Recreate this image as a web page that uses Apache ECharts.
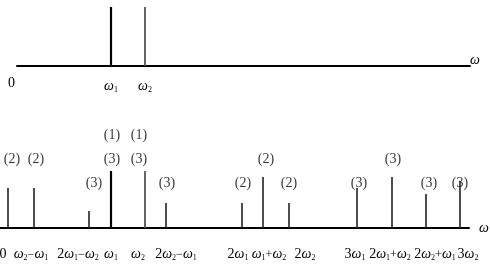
<!DOCTYPE html>
<html>
<head>
<meta charset="utf-8">
<script src="https://cdn.jsdelivr.net/npm/echarts@6/dist/echarts.min.js"></script>
</head>
<body style="margin:0;background:#fff">
<div id="main" style="width:490px;height:272px;"></div>
<script>
// input spectrum (top): positions and heights of the two tones
var topPos = [111, 145];
var topHeights = [59, 59];
var topTickPos = [111, 145];
var topTickText = ['{i|ω}{s|1}', '{i|ω}{s|2}'];

// output spectrum (bottom): intermodulation products
var bottomPos = [8, 34, 89, 111, 145, 166, 242, 263, 289, 357, 392, 426, 460];
var bottomHeights = [40, 40, 17, 57, 57, 25, 25, 51, 25, 40, 51, 34, 47];
var bottomTickPos = [3, 31, 78, 111, 138, 176, 238, 269, 305, 355, 390, 435, 468];
var bottomTickText = [
  '{n|0}',
  '{i|ω}{s|2}{o|−}{i|ω}{s|1}',
  '{n|2}{i|ω}{s|1}{o|−}{i|ω}{s|2}',
  '{i|ω}{s|1}',
  '{i|ω}{s|2}',
  '{n|2}{i|ω}{s|2}{o|−}{i|ω}{s|1}',
  '{n|2}{i|ω}{s|1}',
  '{i|ω}{s|1}{o|+}{i|ω}{s|2}',
  '{n|2}{i|ω}{s|2}',
  '{n|3}{i|ω}{s|1}',
  '{n|2}{i|ω}{s|1}{o|+}{i|ω}{s|2}',
  '{n|2}{i|ω}{s|2}{o|+}{i|ω}{s|1}',
  '{n|3}{i|ω}{s|2}'
];

// order annotations above lines
var annX = [12, 36, 94, 112, 112, 139, 139, 167, 243, 266, 289, 359, 393, 429, 460];
var annY = [69, 69, 45, 69, 93, 69, 93, 45, 45, 69, 45, 45, 69, 45, 45];
var annText = ['(2)', '(2)', '(3)', '(3)', '(1)', '(3)', '(1)', '(3)', '(2)', '(2)', '(2)', '(3)', '(3)', '(3)', '(3)'];

var serif = '"Liberation Serif", "DejaVu Serif", serif';
var rich = {
  i: { fontFamily: serif, fontStyle: 'italic', fontSize: 14, color: '#000' },
  n: { fontFamily: serif, fontSize: 14, color: '#000' },
  o: { fontFamily: serif, fontSize: 12, color: '#000' },
  s: { fontFamily: serif, fontSize: 8, color: '#000', padding: [7, 0, 0, 0] }
};

function lookup(posArr, textArr) {
  return function (v) {
    var k = posArr.indexOf(v);
    return k < 0 ? '' : textArr[k];
  };
}

function stemStyle(x) {
  if (x === 111) return { stroke: '#000', lineWidth: 2.2 };
  if (x === 145) return { stroke: '#555', lineWidth: 1.8 };
  return { stroke: '#222', lineWidth: 1.6 };
}

function stemSeries(axisIdx, pos, heights) {
  return {
    type: 'custom',
    xAxisIndex: axisIdx,
    yAxisIndex: axisIdx,
    data: pos.map(function (x, i) { return [x, heights[i]]; }),
    renderItem: function (params, api) {
      var p0 = api.coord([api.value(0), 0]);
      var p1 = api.coord([api.value(0), api.value(1)]);
      return {
        type: 'line',
        shape: { x1: p0[0], y1: p0[1], x2: p1[0], y2: p1[1] },
        style: stemStyle(api.value(0))
      };
    },
    silent: true,
    z: 3
  };
}

var axisLine = { show: true, lineStyle: { color: '#000', width: 2 } };

var myChart = echarts.init(document.getElementById('main'));
var option = {
  animation: false,
  backgroundColor: '#fff',
  grid: [
    { left: 17, right: 20, top: 7, height: 59, outerBoundsMode: 'none' },
    { left: 0, right: 21, top: 128, height: 100, outerBoundsMode: 'none' }
  ],
  xAxis: [
    {
      gridIndex: 0, type: 'value', min: 17, max: 470,
      axisLine: axisLine, axisTick: { show: false }, splitLine: { show: false },
      axisLabel: {
        customValues: topTickPos, margin: 13,
        formatter: lookup(topTickPos, topTickText), rich: rich
      },
      name: 'ω', nameLocation: 'end', nameGap: 0,
      nameTextStyle: { fontFamily: serif, fontStyle: 'italic', fontSize: 14, color: '#000', verticalAlign: 'bottom', lineHeight: 12 }
    },
    {
      gridIndex: 1, type: 'value', min: 0, max: 469,
      axisLine: axisLine, axisTick: { show: false }, splitLine: { show: false },
      axisLabel: {
        customValues: bottomTickPos, margin: 19,
        formatter: lookup(bottomTickPos, bottomTickText), rich: rich
      },
      name: 'ω', nameLocation: 'end', nameGap: 10,
      nameTextStyle: { fontFamily: serif, fontStyle: 'italic', fontSize: 14, color: '#000', padding: [6, 0, 0, 0] }
    }
  ],
  yAxis: [
    { gridIndex: 0, type: 'value', min: 0, max: 59, show: false },
    { gridIndex: 1, type: 'value', min: 0, max: 100, show: false }
  ],
  graphic: [
    {
      type: 'text', left: 8, top: 76,
      style: { text: '0', font: '14px ' + serif, fill: '#000' }
    }
  ],
  series: [
    stemSeries(0, topPos, topHeights),
    stemSeries(1, bottomPos, bottomHeights),
    {
      type: 'scatter',
      xAxisIndex: 1, yAxisIndex: 1,
      symbolSize: 0,
      data: annX.map(function (x, i) { return [x, annY[i], annText[i]]; }),
      label: {
        show: true, position: 'inside',
        formatter: function (p) { return p.data[2]; },
        fontFamily: serif, fontSize: 14, color: '#000'
      },
      silent: true,
      z: 4
    }
  ]
};
myChart.setOption(option);
</script>
</body>
</html>
